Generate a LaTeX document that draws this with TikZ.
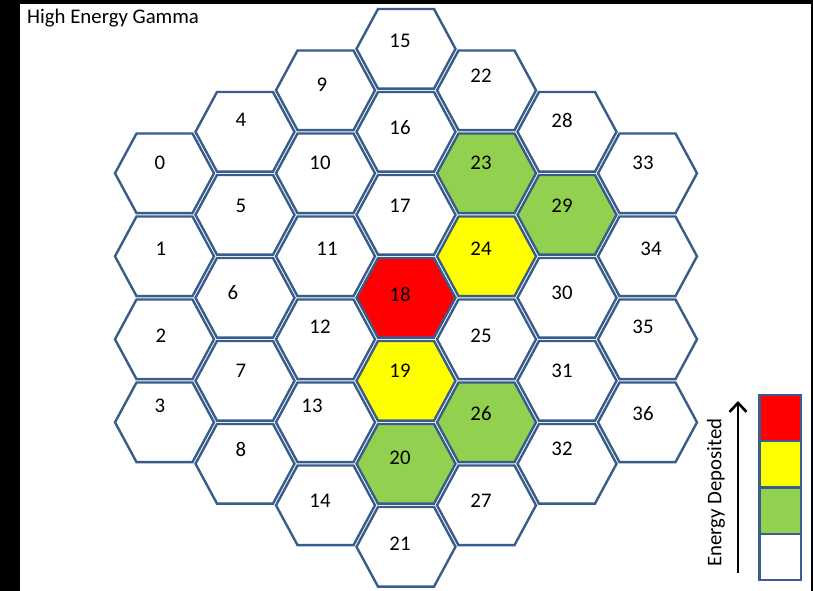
\documentclass[tikz,border=0pt]{standalone}
\usepackage{fontspec}
\setmainfont{Carlito}
\usetikzlibrary{arrows.meta}
\definecolor{hexline}{RGB}{56,93,138}
\definecolor{hexred}{RGB}{255,0,0}
\definecolor{hexyellow}{RGB}{255,255,0}
\definecolor{hexgreen}{RGB}{146,208,80}
\tikzset{
  hexcell/.style={draw=hexline, line width=2.4pt, line join=miter},
  hexlabel/.style={font=\fontsize{20.8}{24}\selectfont, inner sep=0pt},
  legendbox/.style={draw=hexline, line width=2.4pt, minimum width=41.4pt, minimum height=46.3pt, inner sep=0pt, outer sep=0pt},
}
\newcommand\hexpath[3]{%
  \path[hexcell, fill=#3] (#1,#2) ++(-49.5,0) -- ++(21.5,-39.8) -- ++(56,0) -- ++(21.5,39.8) -- ++(-21.5,39.8) -- ++(-56,0) -- cycle;}
\begin{document}
\begin{tikzpicture}[x=1pt,y=-1pt]
\useasboundingbox (0,0) rectangle (813,591);
\fill[black] (0,0) rectangle (813,591);
\fill[white] (20,4) rectangle (811,591);
\foreach \i/\c/\r/\f/\lx/\ly in {
  0/0/0/white/160/163, 1/0/1/white/161/249, 2/0/2/white/161/336, 3/0/3/white/160/406,
  4/1/0/white/241/120, 5/1/1/white/241/206, 6/1/2/white/233/293, 7/1/3/white/241/371, 8/1/4/white/241/449,
  9/2/0/white/322/85, 10/2/1/white/320/163, 11/2/2/white/327/249, 12/2/3/white/320/327, 13/2/4/white/312/406, 14/2/5/white/320/501,
  15/3/0/white/400/41, 16/3/1/white/400/128, 17/3/2/white/400/206, 18/3/3/hexred/400/294, 19/3/4/hexyellow/400/371, 20/3/5/hexgreen/400/458, 21/3/6/white/400/544,
  22/4/0/white/481/76, 23/4/1/hexgreen/481/163, 24/4/2/hexyellow/481/249, 25/4/3/white/481/336, 26/4/4/hexgreen/481/414, 27/4/5/white/481/501,
  28/5/0/white/562/120, 29/5/1/hexgreen/562/206, 30/5/2/white/562/293, 31/5/3/white/562/371, 32/5/4/white/562/449,
  33/6/0/white/643/163, 34/6/1/white/651/249, 35/6/2/white/643/327, 36/6/3/white/643/414}{
  \pgfmathsetmacro\cx{164.5+80.5*\c}
  \pgfmathsetmacro\cy{48.8+41.5*abs(\c-3)+83*\r}
  \hexpath{\cx}{\cy}{\f}
  \node[hexlabel] (n\i) at (\lx,\ly) {\i};
}
\node[hexlabel, anchor=base west] (title) at (27,24) {High Energy Gamma};
\node[legendbox, fill=hexred] (lred) at (780,418) {};
\node[legendbox, fill=hexyellow] (lyellow) at (780,464.3) {};
\node[legendbox, fill=hexgreen] (lgreen) at (780,510.6) {};
\node[legendbox, fill=white] (lwhite) at (780,556.9) {};
\coordinate (abot) at (738,573);
\coordinate (atop) at (738,401);
\draw[line width=2.6pt, -{Straight Barb[length=9pt,width=17pt]}] (abot) -- (atop);
\node[hexlabel, rotate=90] (edep) at (716,492.5) {Energy Deposited};
\end{tikzpicture}
\end{document}
